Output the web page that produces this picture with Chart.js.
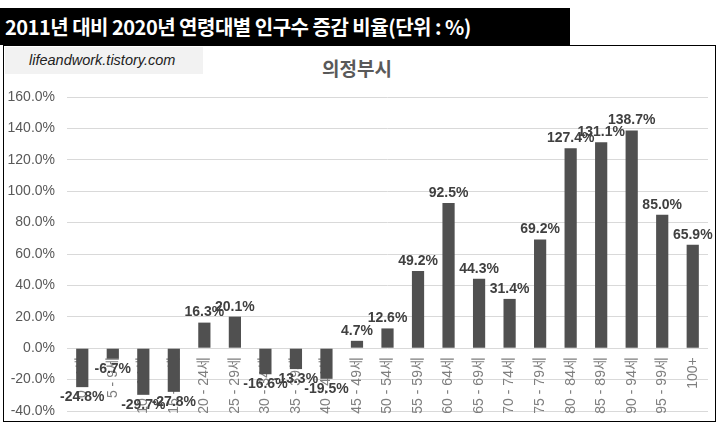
<!DOCTYPE html>
<html>
<head>
<meta charset="utf-8">
<script src="https://cdn.jsdelivr.net/npm/chart.js@4.4.1/dist/chart.umd.min.js"></script>
<style>
  body { margin: 0; background: #fff; }
  #page { position: relative; width: 728px; height: 432px; overflow: hidden; }
  .title-bar {
    position: absolute; left: 0; top: 8px; width: 570px; height: 37px;
    background: #000; color: #fff;
    font-family: "Noto Sans CJK KR", sans-serif; font-weight: bold; font-size: 20px;
    line-height: 37px; padding-left: 5px; box-sizing: border-box; letter-spacing: -0.5px;
  }
  .frame {
    position: absolute; left: 3px; top: 45px; width: 713px; height: 377px;
    border: 1.5px solid #000; box-sizing: border-box;
  }
  .stamp {
    position: absolute; left: 5px; top: 47px; width: 198px; height: 27px;
    background: #f2f2f2; color: #222;
    font-family: "Liberation Sans", sans-serif; font-style: italic; font-size: 14.5px;
    line-height: 27px; padding-left: 24px; box-sizing: border-box;
  }
  .chart-title {
    position: absolute; left: 0; width: 714px; top: 54px; text-align: center;
    font-family: "Noto Sans CJK KR", sans-serif; font-weight: bold; font-size: 19px; color: #595959;
  }
  #wrap { position: absolute; left: 0; top: 0; width: 728px; height: 432px; }
</style>
</head>
<body>
<div id="page">
  <div class="title-bar">2011년 대비 2020년 연령대별 인구수 증감 비율(단위 : %)</div>
  <div class="frame"></div>
  <div class="stamp">lifeandwork.tistory.com</div>
  <div class="chart-title">의정부시</div>
  <div id="wrap"><canvas id="bar-chart"></canvas></div>
</div>
<script>
const ageGroups = ['0 - 4세', '5 - 9세', '10 - 14세', '15 - 19세', '20 - 24세', '25 - 29세', '30 - 34세',
  '35 - 39세', '40 - 44세', '45 - 49세', '50 - 54세', '55 - 59세', '60 - 64세', '65 - 69세',
  '70 - 74세', '75 - 79세', '80 - 84세', '85 - 89세', '90 - 94세', '95 - 99세', '100+'];
const changeRate = [-24.8, -6.7, -29.7, -27.8, 16.3, 20.1, -16.6, -13.3, -19.5, 4.7, 12.6,
  49.2, 92.5, 44.3, 31.4, 69.2, 127.4, 131.1, 138.7, 85.0, 65.9];
const yMin = -40;
const yMax = 160;
const yStep = 20;

// draws the value over (or under) each bar
const valueLabels = {
  id: 'valueLabels',
  afterDraw(chart) {
    const ctx = chart.ctx;
    const meta = chart.getDatasetMeta(0);
    ctx.save();
    ctx.font = 'bold 14px "Liberation Sans", sans-serif';
    ctx.fillStyle = '#404040';
    ctx.textAlign = 'center';
    meta.data.forEach((bar, i) => {
      const v = changeRate[i];
      const txt = v.toFixed(1) + '%';
      if (v >= 0) {
        ctx.textBaseline = 'bottom';
        ctx.fillText(txt, bar.x, bar.y - 3);
      } else {
        ctx.textBaseline = 'top';
        ctx.fillText(txt, bar.x, bar.y + 3);
      }
    });
    ctx.restore();
  }
};

const ctx = document.getElementById('bar-chart').getContext('2d');
new Chart(ctx, {
  type: 'bar',
  data: {
    labels: ageGroups,
    datasets: [{
      label: '증감 비율',
      data: changeRate,
      backgroundColor: '#505050',
      barPercentage: 0.4,
      categoryPercentage: 1.0,
    }],
  },
  options: {
    responsive: true,
    maintainAspectRatio: false,
    animation: false,
    layout: { padding: { top: 97, bottom: 21, left: 5, right: 20 } },
    plugins: { legend: { display: false }, tooltip: { enabled: false } },
    scales: {
      x: {
        position: { y: 0 },
        z: 1,
        grid: { display: false, drawTicks: false },
        border: { display: false },
        ticks: {
          color: '#7f7f7f',
          font: { family: '"Liberation Sans", "Noto Sans CJK KR", sans-serif', size: 14 },
          minRotation: 90,
          maxRotation: 90,
          autoSkip: false,
          padding: 9,
        },
      },
      y: {
        min: yMin,
        max: yMax,
        afterFit(scale) { scale.width = 62; },
        grid: { color: '#d9d9d9', drawTicks: false },
        border: { display: false },
        ticks: {
          stepSize: yStep,
          color: '#595959',
          padding: 12,
          font: { family: '"Liberation Sans", sans-serif', size: 14 },
          callback: (v) => v.toFixed(1) + '%',
        },
      },
    },
  },
  plugins: [valueLabels],
});
</script>
</body>
</html>
